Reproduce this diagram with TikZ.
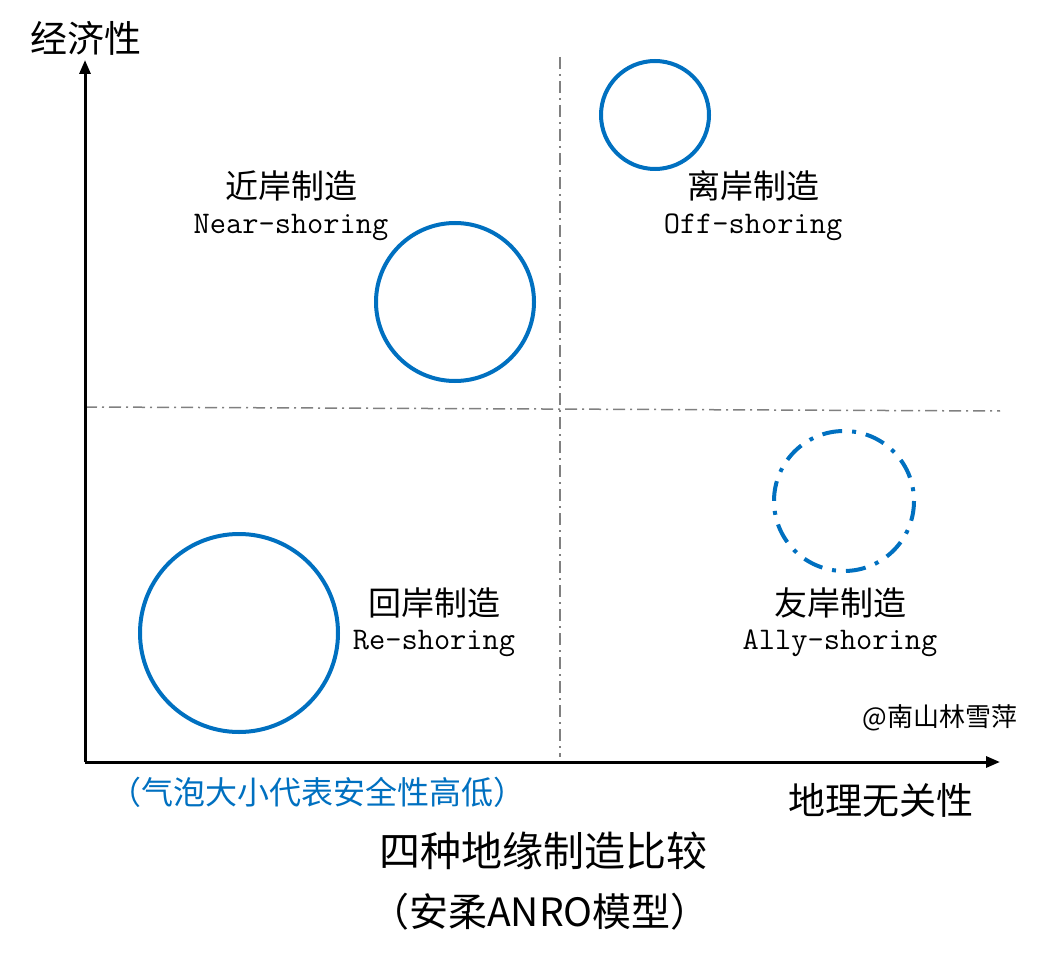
\documentclass[tikz,border=0pt]{standalone}
\usepackage{fontspec}
\newfontfamily\cjk{Noto Sans CJK SC}
\usetikzlibrary{arrows.meta}
\definecolor{bubbleblue}{HTML}{0070C0}
\begin{document}
\begin{tikzpicture}[x=1pt,y=-1pt,
  bubble/.style={draw=bubbleblue,line width=4pt},
  guide/.style={draw=gray,line width=1.5pt,dash pattern=on 12pt off 5pt on 2pt off 5pt},
  axis/.style={line width=3pt,-{Triangle[length=14pt,width=11pt]}},
  zh/.style={font=\cjk\fontsize{33}{36}\selectfont},
  en/.style={font=\ttfamily\fontsize{31.5}{34}\selectfont}]
  \useasboundingbox (0,0) rectangle (1046,957);
  \coordinate (O) at (85,762);
  \coordinate (ytop) at (85,60);
  \coordinate (xend) at (1000,762);
  \coordinate (hl) at (85,407);
  \coordinate (hr) at (1000,411);
  \coordinate (vt) at (560,57);
  \coordinate (vb) at (560,757);
  % guides
  \draw[guide] (hl) -- (hr);
  \draw[guide] (vt) -- (vb);
  % axes
  \draw[axis] (O) -- (ytop);
  \draw[axis] (O) -- (xend);
  \node[font=\cjk\fontsize{37}{40}\selectfont] (yl) at (86,38) {经济性};
  \node[font=\cjk\fontsize{37}{40}\selectfont] (xl) at (881,800) {地理无关性};
  % bubbles
  \draw[bubble] (655,115) circle (54);
  \draw[bubble] (455,302) circle (79);
  \draw[bubble] (239,633) circle (99);
  \draw[bubble,dash pattern=on 20pt off 10pt on 4pt off 10pt] (844,501) circle (70);
  % quadrant labels
  \node[zh] (nearzh) at (291,186) {近岸制造};
  \node[en] (nearen) at (291,227) {Near-shoring};
  \node[zh] (offzh) at (753,186) {离岸制造};
  \node[en] (offen) at (753,227) {Off-shoring};
  \node[zh] (rezh) at (434,603) {回岸制造};
  \node[en] (reen) at (434,643) {Re-shoring};
  \node[zh] (allyzh) at (840,603) {友岸制造};
  \node[en] (allyen) at (840,643) {Ally-shoring};
  \node[font=\cjk\fontsize{26}{29}\selectfont] (sign) at (940,718) {@南山林雪萍};
  \node[font=\cjk\fontsize{32}{35}\selectfont,text=bubbleblue] (note) at (317,792) {（气泡大小代表安全性高低）};
  % title
  \node[font=\cjk\fontsize{41}{44}\selectfont] (title) at (543,851) {四种地缘制造比较};
  \node[font=\cjk\fontsize{39}{42}\selectfont] (sub) at (540,912) {（安柔ANRO模型）};
\end{tikzpicture}
\end{document}
